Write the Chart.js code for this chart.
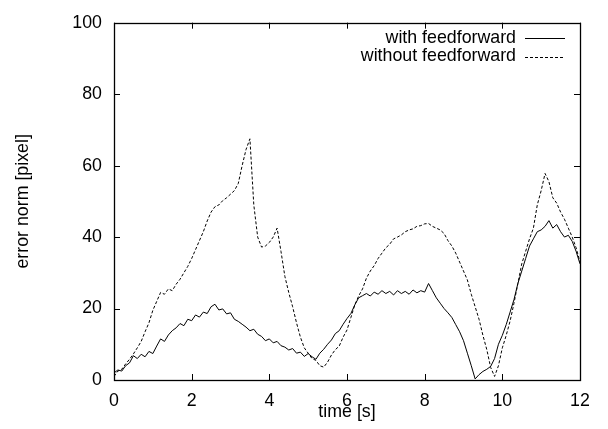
<!DOCTYPE html>
<html>
<head>
<meta charset="utf-8">
<script src="https://cdn.jsdelivr.net/npm/chart.js@4.4.1/dist/chart.umd.min.js"></script>
<style>
  html, body { margin: 0; padding: 0; background: #fff; }
  canvas { display: block; }
</style>
</head>
<body>
<canvas id="myChart" width="608" height="429"></canvas>
<script>
// sample times, 0 .. 12 s in 0.1 s steps
const times = Array.from({ length: 121 }, (_, i) => +(i * 0.1).toFixed(1));

// error norm [pixel]
const withFeedforward = [
  2.0, 2.8, 2.5, 4.0, 4.8, 6.8, 6.0, 7.2, 6.5, 8.0,
  7.4, 9.5, 11.5, 10.8, 12.6, 13.8, 14.6, 15.8, 15.2, 17.0,
  16.6, 18.2, 17.6, 19.0, 18.6, 20.5, 21.2, 19.6, 19.9, 18.5,
  18.8, 17.0, 16.4, 15.6, 14.8, 13.8, 14.2, 12.8, 12.2, 11.0,
  11.5, 10.4, 10.8, 9.6, 9.2, 8.4, 8.8, 7.5, 7.8, 6.6,
  7.4, 6.5, 5.8, 7.5, 8.6, 10.0, 11.2, 13.0, 13.8, 15.6,
  17.2, 18.6, 21.0, 23.0, 23.6, 24.2, 23.5, 24.6, 24.0, 25.0,
  24.2, 24.8, 23.8, 25.0, 24.2, 24.8, 24.0, 25.2, 24.4, 25.0,
  24.6, 27.0, 25.0, 23.0, 21.5, 20.0, 18.8, 17.5, 15.5, 13.5,
  11.0, 7.5, 4.0, 0.3, 1.5, 2.4, 3.0, 3.8, 6.0, 10.0,
  12.5, 15.5, 19.0, 22.5, 27.0, 30.5, 34.0, 37.5, 39.5, 41.5,
  42.0, 43.0, 44.6, 42.5, 43.5, 41.5, 40.0, 40.5, 38.8, 36.0,
  32.5
];

const withoutFeedforward = [
  1.0, 2.5, 3.0, 4.5, 5.8, 7.3, 9.0, 10.8, 13.5, 16.0,
  19.5, 22.0, 24.5, 24.0, 25.5, 25.0, 26.8, 28.2, 30.0, 31.8,
  34.0, 36.5, 39.0, 41.5, 44.5, 47.0, 48.5, 49.0, 50.2, 51.0,
  52.0, 53.0, 55.0, 60.0, 64.5, 67.5, 49.0, 40.0, 37.2, 37.5,
  38.5, 40.0, 42.5, 36.0, 29.0, 24.5, 20.5, 16.0, 12.0, 9.0,
  7.5, 6.0, 5.5, 4.0, 3.6, 5.0, 7.0, 8.5, 9.5, 12.0,
  14.0, 17.5, 21.0, 23.5, 25.5, 28.5, 30.5, 32.0, 34.0, 35.5,
  37.0, 38.0, 39.5, 40.0, 40.6, 41.5, 42.0, 42.3, 43.0, 43.2,
  43.7, 43.8, 43.0, 42.5, 42.0, 41.0, 39.0, 37.5, 35.5, 33.0,
  30.5, 28.0, 24.0, 20.5, 17.0, 12.5, 8.5, 3.5, 1.0, 4.0,
  9.0, 12.5, 16.5, 21.5, 27.0, 32.5, 36.0, 39.5, 42.5, 49.0,
  53.0, 57.8, 55.5, 51.0, 49.5, 47.0, 45.0, 42.5, 40.0, 37.0,
  33.0
];

const seriesLabels = ["with feedforward", "without feedforward"];
const xTicks = [0, 2, 4, 6, 8, 10, 12];
const yTicks = [0, 20, 40, 60, 80, 100];

const FONT = { family: "'Liberation Sans', Arial, sans-serif", size: 17.8 };

// gnuplot style frame with inward ticks on all four sides
const framePlugin = {
  id: "frame",
  afterDatasetsDraw(chart) {
    const { ctx, chartArea: a, scales } = chart;
    const tl = 6;
    ctx.save();
    ctx.strokeStyle = "#000";
    ctx.lineWidth = 1;
    ctx.beginPath();
    xTicks.forEach(v => {
      const x = Math.round(scales.x.getPixelForValue(v)) + 0.5;
      ctx.moveTo(x, a.bottom); ctx.lineTo(x, a.bottom - tl);
      ctx.moveTo(x, a.top); ctx.lineTo(x, a.top + tl);
    });
    yTicks.forEach(v => {
      const y = Math.round(scales.y.getPixelForValue(v)) + 0.5;
      ctx.moveTo(a.left, y); ctx.lineTo(a.left + tl, y);
      ctx.moveTo(a.right, y); ctx.lineTo(a.right - tl, y);
    });
    ctx.stroke();
    ctx.lineWidth = 1.3;
    ctx.strokeRect(Math.round(a.left) + 0.5, Math.round(a.top) + 0.5,
      Math.round(a.right - a.left), Math.round(a.bottom - a.top));
    ctx.restore();
  }
};

// legend: text right aligned, line sample to the right of it
const keyPlugin = {
  id: "key",
  afterDatasetsDraw(chart) {
    const { ctx } = chart;
    ctx.save();
    ctx.font = FONT.size + "px " + FONT.family;
    ctx.fillStyle = "#000";
    ctx.textAlign = "right";
    ctx.textBaseline = "middle";
    chart.data.datasets.forEach((ds, i) => {
      const y = 38 + i * 18.5;
      ctx.fillText(ds.label, 516, y);
      ctx.beginPath();
      ctx.setLineDash(ds.borderDash || []);
      ctx.lineWidth = 1;
      ctx.strokeStyle = "#000";
      ctx.moveTo(525, Math.round(y) + 0.5);
      ctx.lineTo(565, Math.round(y) + 0.5);
      ctx.stroke();
    });
    ctx.restore();
  }
};

const ctx = document.getElementById("myChart");
new Chart(ctx, {
  type: "line",
  data: {
    datasets: [
      {
        label: seriesLabels[0],
        data: times.map((t, i) => ({ x: t, y: withFeedforward[i] })),
        borderColor: "#000",
        borderWidth: 1,
        pointRadius: 0,
        tension: 0
      },
      {
        label: seriesLabels[1],
        data: times.map((t, i) => ({ x: t, y: withoutFeedforward[i] })),
        borderColor: "#000",
        borderWidth: 1,
        borderDash: [3, 2],
        pointRadius: 0,
        tension: 0
      }
    ]
  },
  options: {
    responsive: false,
    animation: false,
    layout: { padding: { left: 0, top: 13, right: 28, bottom: 0 } },
    plugins: {
      legend: { display: false },
      tooltip: { enabled: false }
    },
    scales: {
      x: {
        type: "linear",
        min: 0,
        max: 12,
        afterBuildTicks: s => { s.ticks = xTicks.map(v => ({ value: v })); },
        afterFit: s => { s.height = 49; },
        grid: { display: false, drawTicks: false },
        border: { display: false },
        ticks: { color: "#000", font: FONT, padding: 10, maxRotation: 0 },
        title: { display: true, text: "time [s]", color: "#000", font: FONT, padding: { top: 0, bottom: 6 } }
      },
      y: {
        type: "linear",
        min: 0,
        max: 100,
        afterBuildTicks: s => { s.ticks = yTicks.map(v => ({ value: v })); },
        afterFit: s => { s.width = 114; },
        grid: { display: false, drawTicks: false },
        border: { display: false },
        ticks: { color: "#000", font: FONT, padding: 12 },
        title: { display: true, text: "error norm [pixel]", color: "#000", font: FONT, padding: { top: 12, bottom: 0 } }
      }
    }
  },
  plugins: [framePlugin, keyPlugin]
});
</script>
</body>
</html>
